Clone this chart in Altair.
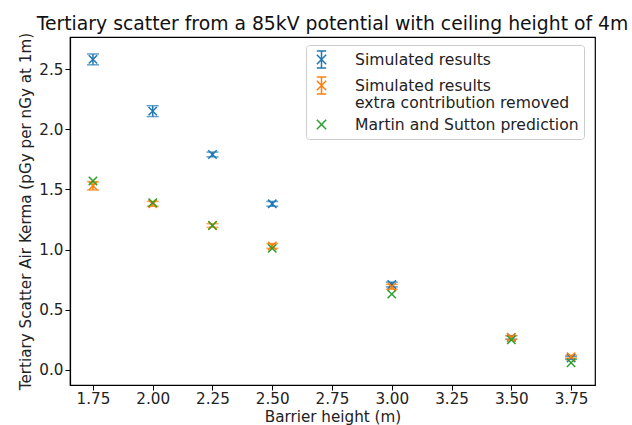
import altair as alt
import pandas as pd

heights = [1.75, 2.00, 2.25, 2.50, 3.00, 3.50, 3.75]
sim = [2.58, 2.15, 1.79, 1.38, 0.71, 0.27, 0.10]
sim_err = [0.045, 0.045, 0.02, 0.02, 0.02, 0.015, 0.012]
sim_rm = [1.53, 1.38, 1.20, 1.03, 0.69, 0.27, 0.11]
sim_rm_err = [0.035, 0.02, 0.015, 0.02, 0.02, 0.015, 0.012]
martin = [1.57, 1.39, 1.20, 1.01, 0.63, 0.25, 0.06]

S1 = "Simulated results"
S2 = "Simulated results extra contribution removed"
S3 = "Martin and Sutton prediction"
series = [S1, S2, S3]
colors = ["#1f77b4", "#ff7f0e", "#2ca02c"]

rows = []
for h, v, e in zip(heights, sim, sim_err):
    rows.append({"x": h, "y": v, "lo": v - e, "hi": v + e, "s": S1})
for h, v, e in zip(heights, sim_rm, sim_rm_err):
    rows.append({"x": h, "y": v, "lo": v - e, "hi": v + e, "s": S2})
for h, v in zip(heights, martin):
    rows.append({"x": h, "y": v, "lo": v, "hi": v, "s": S3})
df = pd.DataFrame(rows)

XPATH = "M-1,-1L1,1M-1,1L1,-1"
EBPATH = "M-0.55,-1L0.55,-1M0,-1L0,1M-0.55,1L0.55,1M-0.55,-0.55L0.55,0.55M-0.55,0.55L0.55,-0.55"
XSMALL = "M-0.55,-0.55L0.55,0.55M-0.55,0.55L0.55,-0.55"

xscale = alt.Scale(domain=[1.654, 3.85], nice=False, zero=False)
yscale = alt.Scale(domain=[-0.125, 2.766], nice=False, zero=False)
cscale = alt.Scale(domain=series, range=colors)
sscale = alt.Scale(domain=series, range=[EBPATH, EBPATH, XSMALL])

X = alt.X("x:Q", scale=xscale,
          axis=alt.Axis(values=[1.75, 2.0, 2.25, 2.5, 2.75, 3.0, 3.25, 3.5, 3.75], format=".2f",
                        title="Barrier height (m)", labelPadding=1, titlePadding=3))
Y = alt.Y("y:Q", scale=yscale,
          axis=alt.Axis(values=[0, 0.5, 1.0, 1.5, 2.0, 2.5], format=".1f",
                        title="Tertiary Scatter Air Kerma (pGy per nGy at 1m)", labelPadding=2, titlePadding=5))

err = df[df["s"] != S3]

bars = alt.Chart(err).mark_rule(strokeWidth=1.5).encode(
    x="x:Q", y="lo:Q", y2="hi:Q",
    color=alt.Color("s:N", scale=cscale, legend=None))
caps_hi = alt.Chart(err).mark_tick(orient="horizontal", size=12, thickness=1.5).encode(
    x="x:Q", y="hi:Q", color=alt.Color("s:N", scale=cscale, legend=None))
caps_lo = alt.Chart(err).mark_tick(orient="horizontal", size=12, thickness=1.5).encode(
    x="x:Q", y="lo:Q", color=alt.Color("s:N", scale=cscale, legend=None))

pts = alt.Chart(df).mark_point(shape=XPATH, size=70, filled=False, strokeWidth=1.5, opacity=1).encode(
    x=X, y=Y, color=alt.Color("s:N", scale=cscale, legend=None))

def make_legend():
    return alt.Legend(
        orient="none", legendX=236, legendY=8,
        labelExpr="datum.label == '" + S2 + "' ? ['Simulated results', 'extra contribution removed'] : datum.label",
        labelFontSize=15.6, labelFont="DejaVu Sans", labelColor="#222",
        symbolOpacity=1, symbolStrokeWidth=1.5, symbolSize=289,
        strokeColor="#cccccc", fillColor="white", cornerRadius=3,
        padding=5, rowPadding=3, labelOffset=24, symbolOffset=1,
        labelLimit=400)

legend_layer = alt.Chart(df).mark_point(filled=False, strokeWidth=1.5, opacity=0).encode(
    x="x:Q", y="y:Q",
    color=alt.Color("s:N", scale=cscale, title=None, legend=make_legend()),
    shape=alt.Shape("s:N", scale=sscale, title=None, legend=make_legend()))

chart = alt.layer(legend_layer, bars, caps_hi, caps_lo, pts).properties(
    width=525, height=348,
    autosize=alt.AutoSizeParams(type="none"),
    padding={"left": 70, "top": 37, "right": 37, "bottom": 40},
    title=alt.Title("Tertiary scatter from a 85kV potential with ceiling height of 4m",
                    fontSize=18.8, font="DejaVu Sans", fontWeight="normal", color="#111", offset=-2),
).configure_view(stroke="black", strokeWidth=1.2).configure_axis(
    grid=False, domainColor="black", tickColor="black", tickSize=5, domainWidth=1.2,
    labelFont="DejaVu Sans", labelFontSize=15.2, labelColor="#222",
    titleFont="DejaVu Sans", titleFontSize=15.2, titleFontWeight="normal", titleColor="#222",
)

chart.save("out.html", embed_options={"renderer": "svg", "actions": False})
